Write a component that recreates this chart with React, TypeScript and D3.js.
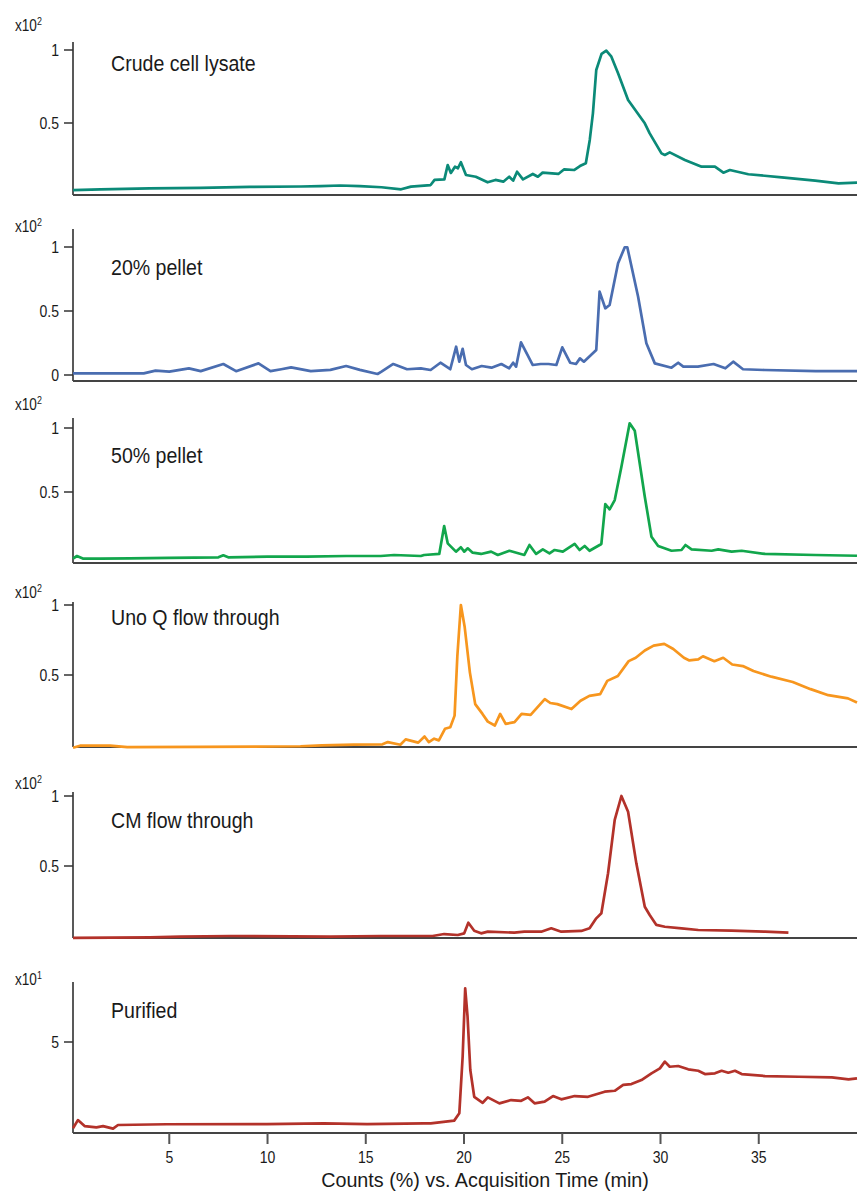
import React from 'react';
import * as d3 from 'd3';

type Pt = [number, number];

const xTickValues = [5, 10, 15, 20, 25, 30, 35];
const xAxisTitle = 'Counts (%) vs. Acquisition Time (min)';
const panelTitles = ['Crude cell lysate', '20% pellet', '50% pellet', 'Uno Q flow through', 'CM flow through', 'Purified'];
const panelExponents = ['2', '2', '2', '2', '2', '1'];
const panelTicks = [[0.5, 1], [0, 0.5, 1], [0.5, 1], [0.5, 1], [0.5, 1], [5]];
const panelColors = ['#0b8a78', '#4a6db0', '#12a64c', '#f7961e', '#b3322a', '#b3322a'];

const crudeLysate: Pt[] = [
  [0.1, 0.04], [1.5, 0.045], [4.0, 0.052], [6.6, 0.055], [9.1, 0.062], [11.7, 0.065], [12.7, 0.068], [13.7, 0.072],
  [14.7, 0.068], [15.8, 0.06], [16.8, 0.046], [17.3, 0.064], [18.3, 0.075], [18.5, 0.11], [19.0, 0.114], [19.17, 0.212],
  [19.33, 0.158], [19.54, 0.201], [19.69, 0.19], [19.84, 0.231], [20.1, 0.144], [20.6, 0.132], [21.2, 0.094], [21.6, 0.11],
  [22.0, 0.098], [22.3, 0.132], [22.5, 0.105], [22.7, 0.166], [23.0, 0.114], [23.5, 0.151], [23.76, 0.132], [24.0, 0.16],
  [24.8, 0.151], [25.1, 0.183], [25.6, 0.178], [25.9, 0.205], [26.2, 0.224], [26.4, 0.384], [26.56, 0.566], [26.73, 0.863],
  [27.0, 0.973], [27.24, 0.995], [27.5, 0.954], [27.84, 0.84], [28.35, 0.658], [29.2, 0.498], [29.45, 0.429], [30.05, 0.292],
  [30.22, 0.281], [30.47, 0.299], [31.24, 0.247], [32.09, 0.201], [32.77, 0.201], [33.2, 0.16], [33.53, 0.178], [34.47, 0.149],
  [36.17, 0.128], [37.87, 0.105], [39.06, 0.087], [40.0, 0.091],
];

const pellet20: Pt[] = [
  [0.1, 0.013], [3.7, 0.013], [4.3, 0.034], [5.0, 0.026], [6.0, 0.052], [6.6, 0.03], [7.75, 0.086], [8.4, 0.03],
  [9.54, 0.091], [10.15, 0.03], [10.7, 0.045], [11.2, 0.06], [12.2, 0.03], [13.2, 0.04], [14.0, 0.07], [14.7, 0.04],
  [15.6, 0.008], [15.8, 0.026], [16.4, 0.086], [17.1, 0.045], [17.8, 0.052], [18.3, 0.039], [18.8, 0.096], [19.3, 0.045],
  [19.6, 0.221], [19.76, 0.104], [19.93, 0.205], [20.1, 0.078], [20.4, 0.045], [20.9, 0.07], [21.4, 0.057], [21.9, 0.086],
  [22.3, 0.052], [22.5, 0.096], [22.65, 0.065], [22.9, 0.255], [23.5, 0.078], [23.9, 0.086], [24.3, 0.086], [24.7, 0.078],
  [25.0, 0.216], [25.4, 0.096], [25.7, 0.086], [25.9, 0.13], [26.1, 0.104], [26.73, 0.195], [26.9, 0.651], [27.19, 0.521],
  [27.41, 0.547], [27.84, 0.873], [28.18, 0.998], [28.31, 0.998], [28.86, 0.612], [29.28, 0.248], [29.71, 0.091], [30.56, 0.057],
  [30.9, 0.096], [31.16, 0.065], [31.9, 0.065], [32.7, 0.086], [33.3, 0.052], [33.7, 0.104], [34.2, 0.045], [35.3, 0.039],
  [37.9, 0.031], [40.0, 0.031],
];

const pellet50: Pt[] = [
  [0.1, -0.02], [0.3, 0.0], [0.6, -0.02], [1.5, -0.02], [3.0, -0.018], [5.0, -0.015], [7.5, -0.01], [7.75, 0.005],
  [8.0, -0.01], [10.0, -0.005], [12.0, -0.005], [14.0, 0.0], [15.76, 0.0], [16.44, 0.008], [17.8, 0.0], [17.97, 0.008],
  [18.74, 0.016], [18.99, 0.234], [19.17, 0.099], [19.59, 0.034], [19.84, 0.068], [20.01, 0.034], [20.19, 0.06], [20.44, 0.026],
  [20.87, 0.016], [21.38, 0.034], [21.72, 0.008], [22.31, 0.041], [23.07, 0.008], [23.33, 0.086], [23.67, 0.016], [24.01, 0.052],
  [24.35, 0.021], [24.61, 0.047], [25.03, 0.034], [25.63, 0.094], [25.88, 0.047], [26.14, 0.078], [26.39, 0.041], [26.99, 0.094],
  [27.19, 0.406], [27.41, 0.365], [27.67, 0.437], [28.01, 0.698], [28.43, 1.037], [28.69, 0.979], [29.2, 0.463], [29.54, 0.151],
  [29.88, 0.078], [30.56, 0.041], [31.07, 0.047], [31.27, 0.086], [31.58, 0.052], [32.6, 0.041], [32.94, 0.052], [33.62, 0.034],
  [34.13, 0.041], [35.32, 0.016], [37.87, 0.008], [40.0, 0.002],
];

const unoQ: Pt[] = [
  [0.1, -0.02], [0.46, -0.005], [1.99, -0.005], [2.86, -0.015], [6.58, -0.014], [11.68, -0.009], [12.76, -0.002], [14.4, 0.002],
  [15.85, 0.005], [16.12, 0.021], [16.76, 0.002], [17.03, 0.04], [17.67, 0.017], [17.99, 0.061], [18.21, 0.021], [18.48, 0.045],
  [18.72, 0.033], [19.03, 0.116], [19.3, 0.127], [19.52, 0.21], [19.66, 0.634], [19.84, 1.0], [20.03, 0.847], [20.3, 0.517],
  [20.57, 0.292], [20.94, 0.222], [21.21, 0.167], [21.57, 0.139], [21.84, 0.222], [22.12, 0.151], [22.57, 0.163], [22.93, 0.222],
  [23.39, 0.215], [24.11, 0.328], [24.39, 0.3], [24.75, 0.292], [25.47, 0.257], [25.93, 0.316], [26.38, 0.351], [26.93, 0.363],
  [27.29, 0.458], [27.83, 0.493], [28.38, 0.599], [28.74, 0.623], [29.2, 0.675], [29.65, 0.71], [30.19, 0.722], [30.65, 0.686],
  [31.19, 0.623], [31.47, 0.604], [31.92, 0.611], [32.16, 0.634], [32.74, 0.599], [33.19, 0.623], [33.65, 0.575], [34.19, 0.564],
  [34.73, 0.528], [35.64, 0.488], [36.73, 0.45], [37.64, 0.399], [38.54, 0.356], [39.54, 0.333], [40.0, 0.304],
];

const cmFlow: Pt[] = [
  [0.1, -0.014], [4.03, -0.01], [5.56, -0.005], [8.11, 0.0], [13.2, -0.005], [15.76, 0.0], [18.4, 0.0], [18.99, 0.014],
  [19.68, 0.007], [20.01, 0.019], [20.22, 0.095], [20.52, 0.038], [20.87, 0.019], [21.21, 0.031], [22.56, 0.024], [23.07, 0.031],
  [23.93, 0.031], [24.44, 0.055], [24.95, 0.031], [25.97, 0.036], [26.39, 0.055], [26.73, 0.126], [26.99, 0.162], [27.33, 0.448],
  [27.67, 0.829], [28.01, 1.0], [28.35, 0.888], [28.77, 0.519], [29.2, 0.209], [29.45, 0.15], [29.79, 0.079], [30.22, 0.066],
  [31.07, 0.055], [31.92, 0.043], [33.62, 0.038], [35.32, 0.031], [36.51, 0.024],
];

const purified: Pt[] = [
  [0.1, 0.26], [0.35, 0.71], [0.69, 0.38], [1.29, 0.31], [1.63, 0.38], [2.14, 0.24], [2.39, 0.44], [4.86, 0.48],
  [9.96, 0.49], [12.85, 0.53], [15.07, 0.49], [17.96, 0.53], [18.31, 0.53], [19.5, 0.68], [19.76, 1.08], [19.93, 4.19],
  [20.06, 7.95], [20.18, 6.39], [20.32, 3.46], [20.52, 1.99], [20.95, 1.66], [21.21, 1.96], [21.8, 1.63], [22.4, 1.81],
  [22.91, 1.77], [23.25, 1.96], [23.59, 1.63], [24.1, 1.72], [24.53, 2.03], [24.95, 1.85], [25.63, 2.03], [26.31, 1.99],
  [27.16, 2.27], [27.67, 2.32], [28.1, 2.64], [28.52, 2.69], [29.03, 2.91], [29.54, 3.28], [29.97, 3.55], [30.22, 3.92],
  [30.47, 3.64], [30.9, 3.68], [31.41, 3.5], [31.92, 3.42], [32.26, 3.24], [32.77, 3.28], [33.11, 3.42], [33.45, 3.31],
  [33.79, 3.42], [34.13, 3.24], [35.32, 3.13], [37.02, 3.09], [38.72, 3.06], [39.57, 2.95], [40.0, 3.0],
];

const seriesList = [crudeLysate, pellet20, pellet50, unoQ, cmFlow, purified];

// layout (pixels) for each panel
const layout = [
  { top: 42, bottom: 195, zeroY: 196, unitY: 50, unit: 1, prefixY: 26, titleY: 63 },
  { top: 229, bottom: 381, zeroY: 375, unitY: 247, unit: 1, prefixY: 227, titleY: 267 },
  { top: 418, bottom: 563, zeroY: 556, unitY: 428, unit: 1, prefixY: 405, titleY: 455 },
  { top: 602, bottom: 747, zeroY: 745, unitY: 605, unit: 1, prefixY: 593, titleY: 617 },
  { top: 792, bottom: 938, zeroY: 936, unitY: 796, unit: 1, prefixY: 784, titleY: 820 },
  { top: 982, bottom: 1133, zeroY: 1133, unitY: 1042, unit: 5, prefixY: 980, titleY: 1010 },
];

const FONT = '"Liberation Sans", Arial, sans-serif';

type CTextProps = {
  x: number;
  y: number;
  size: number;
  sx: number;
  anchor?: 'start' | 'middle' | 'end';
  children: React.ReactNode;
};

// condensed text: horizontally scaled sans
function CText({ x, y, size, sx, anchor = 'start', children }: CTextProps) {
  return (
    <text
      transform={`translate(${x},${y}) scale(${sx},1)`}
      fontSize={size}
      fill="#1a1a1a"
      textAnchor={anchor}
      dominantBaseline="central"
    >
      {children}
    </text>
  );
}

export default function App() {
  const W = 860;
  const H = 1193;
  const axisX = 73;
  const x = d3.scaleLinear().domain([0.1, 40]).range([axisX, 857]);
  const last = layout[layout.length - 1];

  return (
    <svg width={W} height={H} style={{ position: 'absolute', left: 0, top: 0, background: '#fff' }} fontFamily={FONT}>
      {layout.map((p, i) => {
        const y = d3.scaleLinear().domain([0, p.unit]).range([p.zeroY, p.unitY]);
        const line = d3.line<Pt>().x((d) => x(d[0])).y((d) => y(d[1]));
        return (
          <g key={i}>
            <CText x={15} y={p.prefixY} size={16} sx={0.85}>
              x10<tspan fontSize={10.5} dy={-5}>{panelExponents[i]}</tspan>
            </CText>
            <CText x={111} y={p.titleY} size={22} sx={0.89}>
              {panelTitles[i]}
            </CText>
            <line x1={axisX} x2={axisX} y1={p.top} y2={p.bottom} stroke="#222" strokeWidth={1.5} />
            <line x1={axisX} x2={857} y1={p.bottom} y2={p.bottom} stroke="#444" strokeWidth={2} />
            {panelTicks[i].map((t) => (
              <g key={t}>
                <line x1={64} x2={axisX} y1={y(t)} y2={y(t)} stroke="#333" strokeWidth={1.5} />
                <CText x={59} y={y(t)} size={16.5} sx={0.85} anchor="end">
                  {String(t)}
                </CText>
              </g>
            ))}
            <path d={line(seriesList[i]) || ''} fill="none" stroke={panelColors[i]} strokeWidth={2.7} strokeLinejoin="round" />
          </g>
        );
      })}
      {xTickValues.map((t) => (
        <g key={t}>
          <line x1={x(t)} x2={x(t)} y1={last.bottom} y2={last.bottom + 11} stroke="#555" strokeWidth={2} />
          <CText x={x(t)} y={last.bottom + 24} size={16.5} sx={0.85} anchor="middle">
            {String(t)}
          </CText>
        </g>
      ))}
      <CText x={485} y={1180} size={21} sx={0.94} anchor="middle">
        {xAxisTitle}
      </CText>
    </svg>
  );
}
